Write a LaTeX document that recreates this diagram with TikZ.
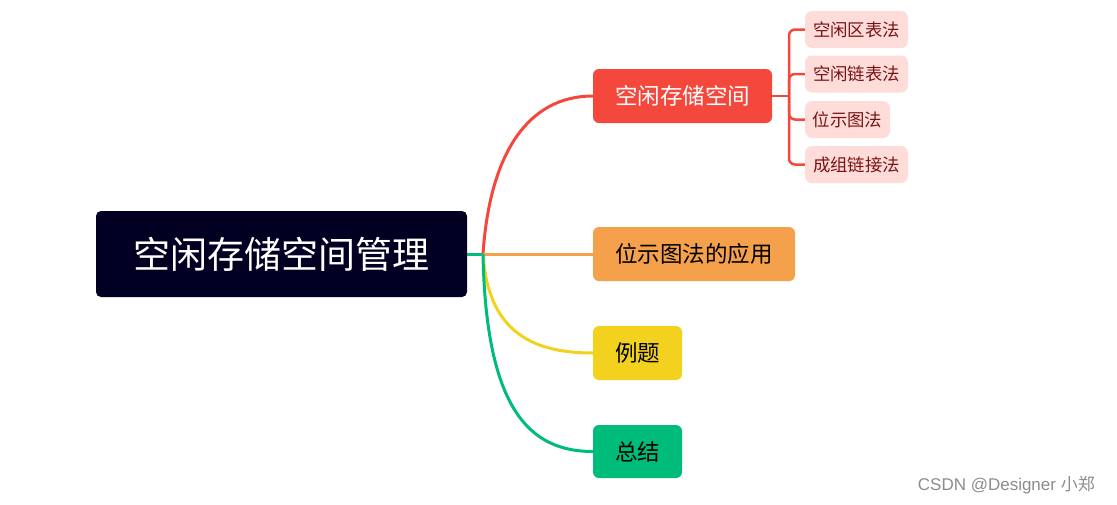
\documentclass[tikz,border=0pt]{standalone}
\usepackage{fontspec}
\newfontfamily\cjk{Noto Sans CJK SC}
\newfontfamily\wmfont{Liberation Sans}
\definecolor{rootc}{HTML}{020022}
\definecolor{redc}{HTML}{F4483D}
\definecolor{orangec}{HTML}{F5A04B}
\definecolor{yellowc}{HTML}{F2D21F}
\definecolor{greenc}{HTML}{00BC7A}
\definecolor{subfill}{HTML}{FDDCDA}
\definecolor{subtext}{HTML}{7A1414}
\begin{document}
\begin{tikzpicture}[x=1pt,y=-1pt,
  rootbox/.style={fill=rootc,rounded corners=5pt,minimum width=371pt,minimum height=86pt,inner sep=0pt,text=white,font=\cjk\fontsize{37}{40}\selectfont},
  mainbox/.style={rounded corners=6pt,minimum height=54pt,inner sep=0pt,font=\cjk\fontsize{22.5}{26}\selectfont},
  subbox/.style={fill=subfill,rounded corners=7pt,minimum height=37pt,inner sep=0pt,text=subtext,font=\cjk\fontsize{17.4}{20}\selectfont},
  branch/.style={line width=3pt},
  subline/.style={line width=2.5pt,draw=redc,rounded corners=6pt}]
\useasboundingbox (0,0) rectangle (1117,504);
\node[rootbox] (root) at (281.5,254) {空闲存储空间管理};
\node[mainbox,fill=redc,text=white,minimum width=179pt] (n1) at (682.5,96) {空闲存储空间};
\node[mainbox,fill=orangec,text=black,minimum width=202pt] (n2) at (694,254) {位示图法的应用};
\node[mainbox,fill=yellowc,text=black,minimum width=89pt] (n3) at (637.5,353) {例题};
\node[mainbox,fill=greenc,text=black,minimum width=89pt,minimum height=53pt] (n4) at (637.5,451.5) {总结};
\node[subbox,minimum width=103pt] (s1) at (856.5,29.5) {空闲区表法};
\node[subbox,minimum width=103pt] (s2) at (856.5,74) {空闲链表法};
\node[subbox,minimum width=85pt] (s3) at (847.5,119.5) {位示图法};
\node[subbox,minimum width=103pt] (s4) at (856.5,164.5) {成组链接法};
\coordinate (j) at (483,254);
\coordinate (br) at (789,96);
\draw[branch,draw=greenc] (root.east) -- (j);
\draw[branch,draw=redc] (j) .. controls (490,150) and (530,96) .. (n1.west);
\draw[branch,draw=orangec] (j) -- (n2.west);
\draw[branch,draw=yellowc] (j) .. controls (488,330) and (530,353) .. (n3.west);
\draw[branch,draw=greenc] (j) .. controls (486,410) and (530,451.5) .. (n4.west);
\draw[subline,rounded corners=0pt] (n1.east) -- (br);
\draw[subline] (br) |- (s1.west);
\draw[subline] (br) |- (s2.west);
\draw[subline] (br) |- (s3.west);
\draw[subline] (br) |- (s4.west);
\node[text=black!45,inner sep=0pt,anchor=east] (wm) at (1095,485) {\wmfont\fontsize{17}{20}\selectfont CSDN @Designer \cjk 小郑};
\end{tikzpicture}
\end{document}
